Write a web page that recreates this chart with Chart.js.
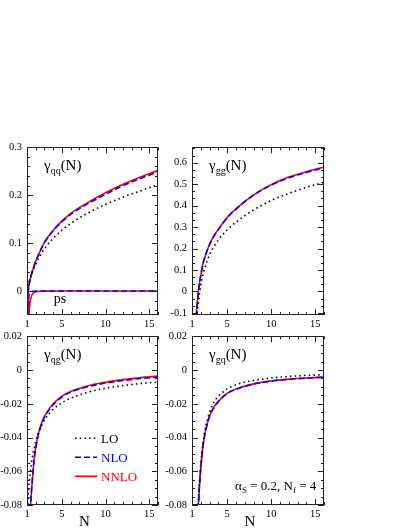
<!DOCTYPE html>
<html>
<head>
<meta charset="utf-8">
<script src="https://cdn.jsdelivr.net/npm/chart.js@4.4.0/dist/chart.umd.min.js"></script>
<style>
  body { margin: 0; background: #fff; width: 409px; height: 529px; overflow: hidden; position: relative; }
  canvas { position: absolute; }
</style>
</head>
<body>
<canvas id="c_qq"></canvas>
<canvas id="c_gg"></canvas>
<canvas id="c_qg"></canvas>
<canvas id="c_gq"></canvas>
<script>
// --- data (alpha_s = 0.2, nf = 4) ---
const xTicks = [1, 5, 10, 15];

// gamma_qq (with pure-singlet "ps" part near zero)
const N_qq    = [1, 1.05, 1.1, 1.15, 1.2, 1.3, 1.5, 1.75, 2, 2.5, 3, 4, 5, 6, 8, 10, 12, 14, 16];
const qq_LO   = [0, 0.004, 0.008, 0.012, 0.015, 0.022, 0.034, 0.046, 0.056, 0.074, 0.088, 0.110, 0.127, 0.141, 0.163, 0.181, 0.196, 0.209, 0.222];
const qq_NLO  = [-0.10, -0.04, -0.01, 0.003, 0.010, 0.019, 0.034, 0.049, 0.062, 0.083, 0.101, 0.126, 0.145, 0.160, 0.183, 0.202, 0.220, 0.235, 0.249];
const qq_NNLO = [-0.15, -0.07, -0.025, 0.0, 0.009, 0.019, 0.034, 0.049, 0.062, 0.083, 0.102, 0.127, 0.146, 0.162, 0.185, 0.205, 0.223, 0.238, 0.252];
const ps_NLO  = [-0.6, -0.25, -0.10, -0.045, -0.015, -0.004, -0.001, -0.0004, -0.0002, 0, 0, 0, 0, 0, 0, 0, 0, 0, 0];
const ps_NNLO = [-0.6, -0.3, -0.15, -0.09, -0.06, -0.03, -0.011, -0.004, -0.0015, -0.0005, -0.0002, 0, 0, 0, 0, 0, 0, 0, 0];
const qqTicks = [0, 0.1, 0.2, 0.3];

// gamma_gg
const N_gg    = [1, 1.2, 1.4, 1.5, 1.6, 1.8, 2, 2.25, 2.5, 3, 3.5, 4, 5, 6, 8, 10, 12, 14, 16];
const gg_LO   = [-1.0, -0.45, -0.22, -0.135, -0.095, -0.03, 0.03, 0.08, 0.115, 0.172, 0.21, 0.24, 0.287, 0.323, 0.38, 0.424, 0.457, 0.485, 0.509];
const gg_NLO  = [-1.0, -0.42, -0.18, -0.11, -0.058, 0.023, 0.074, 0.129, 0.164, 0.219, 0.259, 0.289, 0.344, 0.384, 0.449, 0.496, 0.530, 0.555, 0.577];
const gg_NNLO = [-1.0, -0.40, -0.17, -0.105, -0.055, 0.025, 0.075, 0.13, 0.165, 0.22, 0.26, 0.29, 0.345, 0.385, 0.45, 0.498, 0.533, 0.558, 0.58];
const ggTicks = [-0.1, 0, 0.1, 0.2, 0.3, 0.4, 0.5, 0.6];

// gamma_qg
const N_qg    = [1, 1.2, 1.4, 1.5, 1.6, 1.8, 2, 2.25, 2.5, 3, 3.5, 4, 5, 6, 8, 10, 12, 14, 16];
const qg_LO   = [-0.085, -0.070, -0.060, -0.0557, -0.052, -0.0468, -0.0424, -0.038, -0.0347, -0.0297, -0.0261, -0.0233, -0.0194, -0.0167, -0.0131, -0.0108, -0.0092, -0.0080, -0.0071];
const qg_NLO  = [-0.19, -0.112, -0.082, -0.073, -0.066, -0.054, -0.0465, -0.0395, -0.0345, -0.028, -0.0238, -0.0205, -0.0160, -0.0131, -0.0098, -0.0077, -0.0062, -0.0050, -0.0042];
const qg_NNLO = [-0.20, -0.115, -0.082, -0.0725, -0.066, -0.0535, -0.046, -0.039, -0.034, -0.0275, -0.0233, -0.0200, -0.0155, -0.0127, -0.0093, -0.0072, -0.0057, -0.0045, -0.0036];

// gamma_gq
const N_gq    = [1.2, 1.4, 1.5, 1.6, 1.8, 2, 2.25, 2.5, 3, 3.5, 4, 5, 6, 8, 10, 12, 14, 16];
const gq_LO   = [-0.30, -0.14, -0.11, -0.092, -0.070, -0.056, -0.043, -0.035, -0.025, -0.019, -0.0155, -0.0112, -0.0087, -0.0062, -0.0047, -0.0038, -0.0032, -0.0028];
const gq_NLO  = [-0.35, -0.16, -0.121, -0.097, -0.0735, -0.0582, -0.0452, -0.0372, -0.0274, -0.0222, -0.0186, -0.0139, -0.0114, -0.0083, -0.0065, -0.0055, -0.0048, -0.0043];
const gq_NNLO = [-0.35, -0.16, -0.12, -0.096, -0.073, -0.058, -0.045, -0.037, -0.0272, -0.022, -0.0185, -0.0138, -0.0113, -0.0082, -0.0064, -0.0054, -0.0047, -0.0042];
const offTicks = [-0.08, -0.06, -0.04, -0.02, 0, 0.02];

// --- styles ---
const FONT = '"Liberation Serif", "Times New Roman", serif';
const styles = {
  LO:   { borderColor: '#000000', borderWidth: 1.6, borderDash: [1.5, 3.2] },
  NLO:  { borderColor: '#0000ff', borderWidth: 1.6, borderDash: [6, 3] },
  NNLO: { borderColor: '#ff0000', borderWidth: 1.6, borderDash: [] }
};

Chart.defaults.font.family = FONT;
Chart.defaults.color = '#000';

function pts(xs, ys) {
  return xs.map((x, i) => ({ x: x, y: ys[i] }));
}

function ds(name, xs, ys) {
  return Object.assign({
    label: name,
    data: pts(xs, ys),
    pointRadius: 0,
    fill: false,
    clip: 0,
    cubicInterpolationMode: 'monotone'
  }, styles[name]);
}

function minorList(min, max, step) {
  const out = [];
  for (let i = Math.ceil(min / step - 1e-6); i * step <= max + 1e-9; i++) out.push(i * step);
  return out;
}

function rich(ctx, x, y, parts) {
  for (const [t, size, dy] of parts) {
    ctx.font = size + 'px ' + FONT;
    ctx.fillText(t, x, y + dy);
    x += ctx.measureText(t).width;
  }
}

// frame with inward major/minor ticks on all four sides, plus labels
const decor = {
  id: 'decor',
  afterDatasetsDraw(chart, args, o) {
    const { ctx, chartArea: a, scales: { x, y } } = chart;
    ctx.save();
    ctx.strokeStyle = '#222';
    ctx.lineWidth = 1;
    ctx.beginPath();
    const vt = (v, len) => {
      const p = Math.round(x.getPixelForValue(v)) + 0.5;
      ctx.moveTo(p, a.bottom); ctx.lineTo(p, a.bottom - len);
      ctx.moveTo(p, a.top); ctx.lineTo(p, a.top + len);
    };
    const ht = (v, len) => {
      const p = Math.round(y.getPixelForValue(v)) + 0.5;
      ctx.moveTo(a.left, p); ctx.lineTo(a.left + len, p);
      ctx.moveTo(a.right, p); ctx.lineTo(a.right - len, p);
    };
    minorList(x.min, x.max, o.xMinor).forEach(v => vt(v, 3));
    o.xMajor.forEach(v => vt(v, 6));
    minorList(y.min, y.max, o.yMinor).forEach(v => ht(v, 3));
    o.yMajor.forEach(v => ht(v, 6));
    ctx.stroke();
    ctx.strokeRect(Math.round(a.left) + 0.5, Math.round(a.top) + 0.5,
                   Math.round(a.right - a.left) - 1, Math.round(a.bottom - a.top) - 1);
    ctx.restore();
  },
  afterDraw(chart, args, o) {
    const { ctx, chartArea: a, scales: { x, y } } = chart;
    ctx.save();
    ctx.fillStyle = '#000';
    ctx.textBaseline = 'alphabetic';
    ctx.textAlign = 'left';
    // panel label, e.g. gamma_qq(N)
    rich(ctx, a.left + 17, a.top + 23, [['\u03b3', 15, 0], [o.sub, 10, 4], ['(N)', 15, 0]]);
    (o.texts || []).forEach(t => {
      rich(ctx, x.getPixelForValue(t.x), y.getPixelForValue(t.y), t.parts);
    });
    if (o.xTitle) {
      ctx.font = '15px ' + FONT;
      ctx.textAlign = 'center';
      ctx.fillText('N', (a.left + a.right) / 2 - 8, a.bottom + 21);
      ctx.textAlign = 'left';
    }
    if (o.legend) {
      chart.data.datasets.slice(0, 3).forEach((d, i) => {
        const yy = a.top + 102 + 19 * i;
        ctx.strokeStyle = d.borderColor;
        ctx.lineWidth = d.borderWidth;
        ctx.setLineDash(d.borderDash);
        ctx.beginPath();
        ctx.moveTo(a.left + 48, yy);
        ctx.lineTo(a.left + 70, yy);
        ctx.stroke();
        ctx.setLineDash([]);
        ctx.fillStyle = d.borderColor;
        ctx.font = '13px ' + FONT;
        ctx.textBaseline = 'middle';
        ctx.fillText(d.label, a.left + 74, yy + 1);
      });
    }
    ctx.restore();
  }
};

function fmt(v) {
  return String(Math.round(v * 1000) / 1000);
}

function panel(id, rect, yMin, yMax, yTicks, yMinor, datasets, extra) {
  const cv = document.getElementById(id);
  const padL = 27, padT = 10, padR = 10, padB = 24;
  cv.width = rect.W + padL + padR;
  cv.height = rect.H + padT + padB;
  cv.style.left = (rect.L - padL) + 'px';
  cv.style.top = (rect.T - padT) + 'px';
  return new Chart(cv, {
    type: 'line',
    data: { datasets: datasets },
    options: {
      responsive: false,
      animation: false,
      devicePixelRatio: 1,
      events: [],
      layout: { padding: { top: padT, right: padR, left: 0, bottom: 0 } },
      scales: {
        x: {
          type: 'linear', min: 1, max: 16,
          grid: { display: false, drawTicks: false },
          border: { display: false },
          afterBuildTicks: s => { s.ticks = xTicks.map(v => ({ value: v })); },
          afterFit: s => { s.height = padB; },
          ticks: { padding: 3, maxRotation: 0, font: { size: 10.5 }, callback: v => String(v) }
        },
        y: {
          type: 'linear', min: yMin, max: yMax,
          grid: { display: false, drawTicks: false },
          border: { display: false },
          afterBuildTicks: s => { s.ticks = yTicks.map(v => ({ value: v })); },
          afterFit: s => { s.width = padL; },
          ticks: { padding: 5, font: { size: 10.5 }, callback: v => fmt(v) }
        }
      },
      plugins: {
        legend: { display: false },
        tooltip: { enabled: false },
        decor: Object.assign({ xMajor: xTicks, xMinor: 1, yMajor: yTicks, yMinor: yMinor }, extra)
      }
    },
    plugins: [decor]
  });
}

panel('c_qq', { L: 27, T: 146, W: 131, H: 169 }, -0.05, 0.3, qqTicks, 0.02, [
  ds('LO', N_qq, qq_LO), ds('NLO', N_qq, qq_NLO), ds('NNLO', N_qq, qq_NNLO),
  ds('NLO', N_qq, ps_NLO), ds('NNLO', N_qq, ps_NNLO)
], { sub: 'qq', texts: [{ x: 4.05, y: -0.024, parts: [['ps', 14, 0]] }] });

panel('c_gg', { L: 192, T: 146, W: 132, H: 169 }, -0.11, 0.672, ggTicks, 0.1 / 3, [
  ds('LO', N_gg, gg_LO), ds('NLO', N_gg, gg_NLO), ds('NNLO', N_gg, gg_NNLO)
], { sub: 'gg' });

panel('c_qg', { L: 27, T: 335, W: 131, H: 170 }, -0.08, 0.02, offTicks, 0.005, [
  ds('LO', N_qg, qg_LO), ds('NLO', N_qg, qg_NLO), ds('NNLO', N_qg, qg_NNLO)
], { sub: 'qg', legend: true, xTitle: true });

panel('c_gq', { L: 192, T: 335, W: 132, H: 170 }, -0.08, 0.02, offTicks, 0.005, [
  ds('LO', N_gq, gq_LO), ds('NLO', N_gq, gq_NLO), ds('NNLO', N_gq, gq_NNLO)
], { sub: 'gq', xTitle: true, texts: [{ x: 5.9, y: -0.071,
  parts: [['\u03b1', 13, 0], ['S', 9, 3], [' = 0.2, N', 13, 0], ['f', 9, 3], [' = 4', 13, 0]] }] });
</script>
</body>
</html>
